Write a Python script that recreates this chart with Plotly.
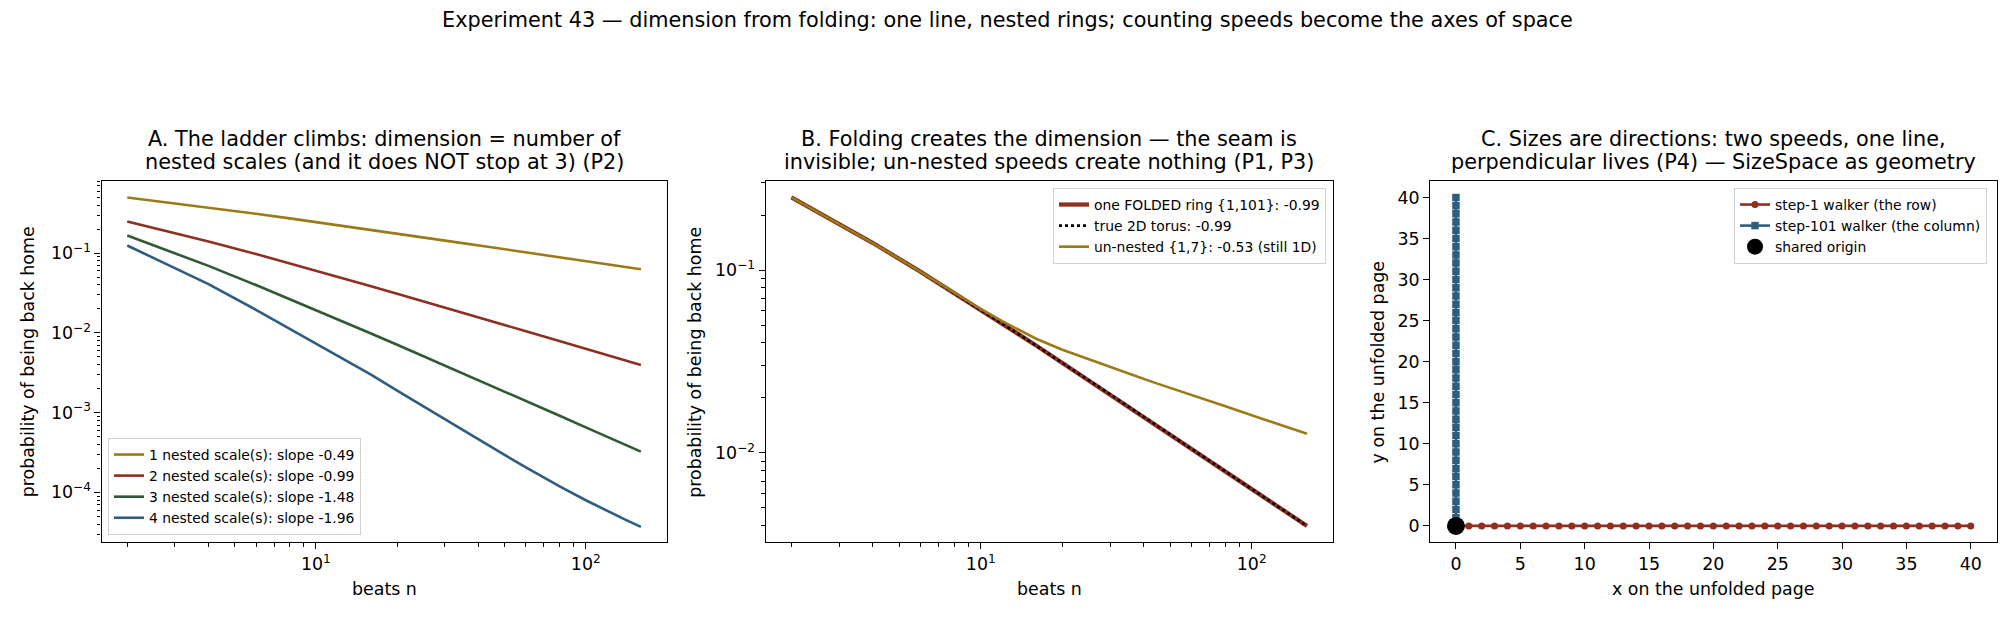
import plotly.graph_objects as go

# ---------------- data ----------------
n_beats = [2, 4, 6, 8, 10, 12, 14, 16, 20, 24, 30, 36, 44, 50, 60, 70, 80, 100, 120, 140, 160]

# Panel A: probability of being back home for 1..4 nested scales
p_nested1 = [0.5, 0.375, 0.3125, 0.2734, 0.2461, 0.2256, 0.2095, 0.1964, 0.1762, 0.1612, 0.1445,
             0.1321, 0.1196, 0.1123, 0.1026, 0.0950, 0.0889, 0.0796, 0.0727, 0.0673, 0.0630]
p_nested2 = [0.25, 0.1406, 0.0977, 0.0748, 0.0606, 0.0509, 0.0439, 0.0386, 0.0310, 0.0260, 0.0209,
             0.01744, 0.01430, 0.01261, 0.01052, 0.00903, 0.00791, 0.00634, 0.00528, 0.00453, 0.00397]
p_nested3 = [0.1667, 0.0694, 0.0399, 0.0266, 0.0194, 0.0149, 0.01196, 0.00986, 0.00712, 0.00545, 0.00392,
             0.002995, 0.002224, 0.00184, 0.00140, 0.001115, 0.000914, 0.000655, 0.000499, 0.000396, 0.000325]
p_nested4 = [0.125, 0.0410, 0.0195, 0.0113, 0.0074, 0.0052, 0.0039, 0.0030, 0.001895, 0.001304, 0.000827,
             0.000571, 0.000381, 0.000295, 0.000206, 0.000153, 0.000119, 0.0000797, 0.0000584, 0.0000455, 0.0000370]
labels_A = ["1 nested scale(s): slope -0.49", "2 nested scale(s): slope -0.99",
            "3 nested scale(s): slope -1.48", "4 nested scale(s): slope -1.96"]

# Panel B
p_folded = [0.25, 0.1406, 0.0977, 0.0748, 0.0606, 0.0509, 0.0439, 0.0386, 0.0310, 0.0260, 0.0209,
            0.01744, 0.01430, 0.01261, 0.01052, 0.00903, 0.00791, 0.00634, 0.00528, 0.00453, 0.00397]
p_torus = [0.25, 0.1406, 0.0977, 0.0748, 0.0606, 0.0509, 0.0439, 0.0386, 0.0310, 0.0260, 0.0209,
           0.01744, 0.01430, 0.01261, 0.01052, 0.00903, 0.00791, 0.00634, 0.00528, 0.00453, 0.00397]
p_unnested = [0.25, 0.1406, 0.0977, 0.0750, 0.0612, 0.0525, 0.0464, 0.04205, 0.03662, 0.03313, 0.02943,
              0.02677, 0.02411, 0.02259, 0.02066, 0.01916, 0.01794, 0.01605, 0.01465, 0.01356, 0.01269]
labels_B = ["one FOLDED ring {1,101}: -0.99", "true 2D torus: -0.99", "un-nested {1,7}: -0.53 (still 1D)"]

# Panel C
row_x = [0, 1, 2, 3, 4, 5, 6, 7, 8, 9, 10, 11, 12, 13, 14, 15, 16, 17, 18, 19, 20,
         21, 22, 23, 24, 25, 26, 27, 28, 29, 30, 31, 32, 33, 34, 35, 36, 37, 38, 39, 40]
row_y = [0, 0, 0, 0, 0, 0, 0, 0, 0, 0, 0, 0, 0, 0, 0, 0, 0, 0, 0, 0, 0,
         0, 0, 0, 0, 0, 0, 0, 0, 0, 0, 0, 0, 0, 0, 0, 0, 0, 0, 0, 0]
col_x = [0, 0, 0, 0, 0, 0, 0, 0, 0, 0, 0, 0, 0, 0, 0, 0, 0, 0, 0, 0, 0,
         0, 0, 0, 0, 0, 0, 0, 0, 0, 0, 0, 0, 0, 0, 0, 0, 0, 0, 0, 0]
col_y = [0, 1, 2, 3, 4, 5, 6, 7, 8, 9, 10, 11, 12, 13, 14, 15, 16, 17, 18, 19, 20,
         21, 22, 23, 24, 25, 26, 27, 28, 29, 30, 31, 32, 33, 34, 35, 36, 37, 38, 39, 40]
origin_x = [0]
origin_y = [0]
labels_C = ["step-1 walker (the row)", "step-101 walker (the column)", "shared origin"]

# ---------------- style ----------------
FONT = "DejaVu Sans"
W, H = 2015, 624
GOLD = "#9b7b19"
RED = "#8e2f22"
GREEN = "#2f5a33"
BLUE = "#2f5d7e"


def fx(p):
    return p / W


def fy(p):
    return 1 - p / H


fig = go.Figure()

for vals, col, lab in zip([p_nested1, p_nested2, p_nested3, p_nested4],
                          [GOLD, RED, GREEN, BLUE], labels_A):
    fig.add_trace(go.Scatter(x=n_beats, y=vals, mode="lines", name=lab,
                             line=dict(color=col, width=2.6),
                             xaxis="x", yaxis="y", legend="legend"))

fig.add_trace(go.Scatter(x=n_beats, y=p_folded, mode="lines", name=labels_B[0],
                         line=dict(color=RED, width=4.3), xaxis="x2", yaxis="y2", legend="legend2"))
fig.add_trace(go.Scatter(x=n_beats, y=p_torus, mode="lines", name=labels_B[1],
                         line=dict(color="black", width=2.6, dash="dot"),
                         xaxis="x2", yaxis="y2", legend="legend2"))
fig.add_trace(go.Scatter(x=n_beats, y=p_unnested, mode="lines", name=labels_B[2],
                         line=dict(color=GOLD, width=2.6), xaxis="x2", yaxis="y2", legend="legend2"))

fig.add_trace(go.Scatter(x=col_x, y=col_y, mode="lines+markers", name=labels_C[1], legendrank=2,
                         line=dict(color=BLUE, width=2.6),
                         marker=dict(symbol="square", size=7.5, color=BLUE, line=dict(width=0)),
                         xaxis="x3", yaxis="y3", legend="legend3"))
fig.add_trace(go.Scatter(x=row_x, y=row_y, mode="lines+markers", name=labels_C[0], legendrank=1,
                         line=dict(color=RED, width=2.6),
                         marker=dict(symbol="circle", size=7, color=RED, line=dict(width=0)),
                         xaxis="x3", yaxis="y3", legend="legend3"))
fig.add_trace(go.Scatter(x=origin_x, y=origin_y, mode="markers", name=labels_C[2], legendrank=3,
                         marker=dict(symbol="circle", size=18, color="black", line=dict(width=0)),
                         xaxis="x3", yaxis="y3", legend="legend3"))

common = dict(showline=True, linecolor="black", linewidth=1.3, mirror=True,
              ticks="outside", ticklen=6, tickwidth=1.3, tickcolor="black",
              showgrid=False, zeroline=False, automargin=False,
              tickfont=dict(family=FONT, size=17.4, color="black"))
minor_common = dict(ticks="outside", ticklen=3.5, tickwidth=1, tickcolor="black", showgrid=False)

x_minor = [2, 3, 4, 5, 6, 7, 8, 9, 20, 30, 40, 50, 60, 70, 80, 90]
yA_minor = [m * 10 ** e for e in (-5, -4, -3, -2, -1) for m in range(2, 10)]
yB_minor = [m * 10 ** e for e in (-3, -2, -1) for m in range(2, 10)]

doms_x = [(101.6, 666.5), (765.7, 1332.7), (1430.2, 1996.5)]
dom_y = [fy(542.3), fy(181)]

log_x = dict(type="log", range=[0.206, 2.299], tickmode="array", tickvals=[10, 100],
             ticktext=["10<sup>1</sup>", "10<sup>2</sup>"],
             minor=dict(tickmode="array", tickvals=x_minor, **minor_common))

fig.update_layout(
    width=W, height=H, template="none",
    paper_bgcolor="white", plot_bgcolor="white",
    margin=dict(l=0, r=0, t=0, b=0),
    font=dict(family=FONT, color="black"),
    showlegend=True,
    xaxis=dict(domain=[fx(doms_x[0][0]), fx(doms_x[0][1])], anchor="y", **log_x, **common),
    yaxis=dict(domain=dom_y, anchor="x", type="log", range=[-4.626, -0.094], tickmode="array",
               tickvals=[1e-4, 1e-3, 1e-2, 1e-1],
               ticktext=["10<sup>\u22124</sup>", "10<sup>\u22123</sup>", "10<sup>\u22122</sup>", "10<sup>\u22121</sup>"],
               minor=dict(tickmode="array", tickvals=yA_minor, **minor_common), **common),
    xaxis2=dict(domain=[fx(doms_x[1][0]), fx(doms_x[1][1])], anchor="y2", **log_x, **common),
    yaxis2=dict(domain=dom_y, anchor="x2", type="log", range=[-2.4905, -0.5125], tickmode="array",
                tickvals=[1e-2, 1e-1],
                ticktext=["10<sup>\u22122</sup>", "10<sup>\u22121</sup>"],
                minor=dict(tickmode="array", tickvals=yB_minor, **minor_common), **common),
    xaxis3=dict(domain=[fx(doms_x[2][0]), fx(doms_x[2][1])], anchor="y3", range=[-2, 42],
                tickmode="linear", tick0=0, dtick=5, **common),
    yaxis3=dict(domain=dom_y, anchor="x3", range=[-2, 42], tickmode="linear", tick0=0, dtick=5, **common),
)

leg_common = dict(bgcolor="rgba(255,255,255,0.8)", bordercolor="#d0d0d0", borderwidth=1,
                  font=dict(family=FONT, size=13.9, color="black"), itemwidth=30,
                  tracegroupgap=0)
fig.update_layout(
    legend=dict(x=fx(108), y=fy(535), xanchor="left", yanchor="bottom", **leg_common),
    legend2=dict(x=fx(1326), y=fy(188), xanchor="right", yanchor="top", **leg_common),
    legend3=dict(x=fx(1987), y=fy(188), xanchor="right", yanchor="top", **leg_common),
)

ann = []


def text(x, y, s, size, angle=0):
    ann.append(dict(x=fx(x), y=fy(y), xref="paper", yref="paper", text=s, showarrow=False,
                    xanchor="center", yanchor="middle", textangle=angle,
                    font=dict(family=FONT, size=size, color="black")))


text(1007, 20.5, "Experiment 43 \u2014 dimension from folding: one line, nested rings; counting speeds become the axes of space", 20.8)

titles = [
    ("A. The ladder climbs: dimension = number of", "nested scales (and it does NOT stop at 3) (P2)"),
    ("B. Folding creates the dimension \u2014 the seam is", "invisible; un-nested speeds create nothing (P1, P3)"),
    ("C. Sizes are directions: two speeds, one line,", "perpendicular lives (P4) \u2014 SizeSpace as geometry"),
]
for (x0, x1), (l1, l2) in zip(doms_x, titles):
    cx = (x0 + x1) / 2
    text(cx, 139.2, l1, 20.8)
    text(cx, 161.8, l2, 20.8)

text(sum(doms_x[0]) / 2, 589, "beats n", 17.4)
text(sum(doms_x[1]) / 2, 589, "beats n", 17.4)
text(sum(doms_x[2]) / 2, 589, "x on the unfolded page", 17.4)
text(28.3, 362, "probability of being back home", 17.4, -90)
text(694.8, 362, "probability of being back home", 17.4, -90)
text(1378.4, 362, "y on the unfolded page", 17.4, -90)

fig.update_layout(annotations=ann)

fig.write_html("out.html")
